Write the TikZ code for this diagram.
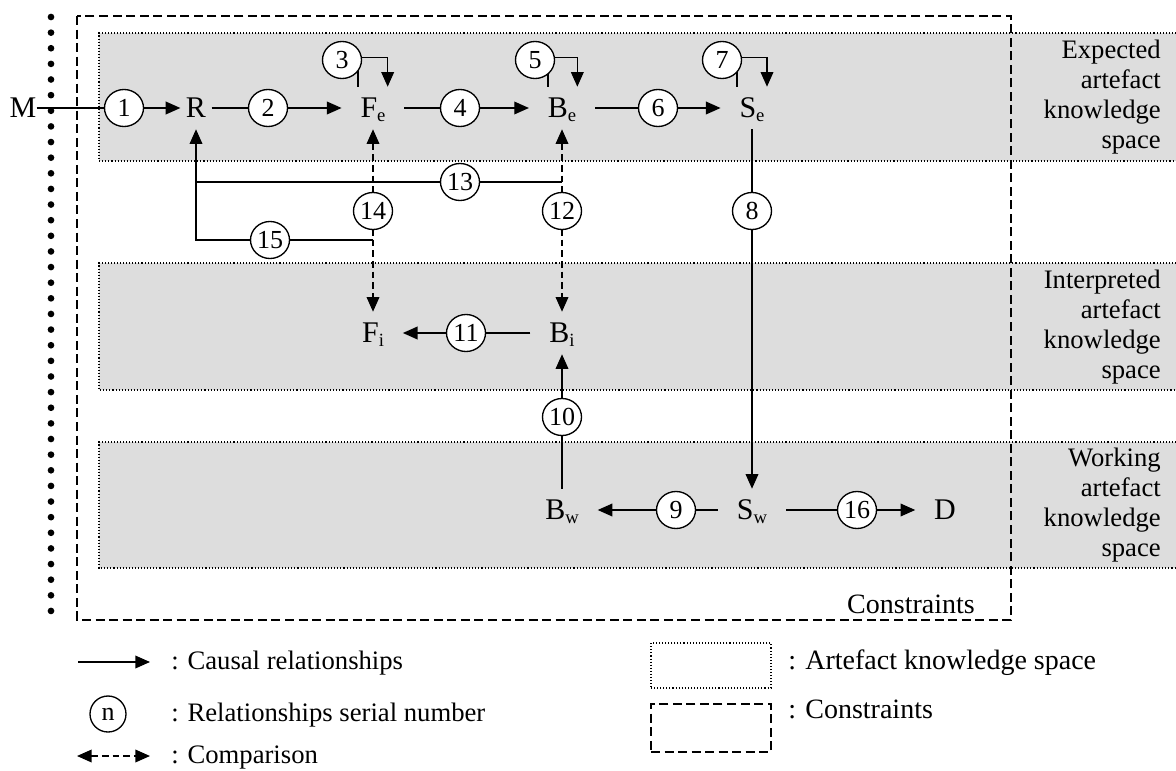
\documentclass[tikz,border=0pt]{standalone}
\usepackage{fontspec}
\setmainfont{Liberation Serif}
\usetikzlibrary{arrows.meta,shapes.geometric}
\pgfdeclarelayer{bandlayer}
\pgfdeclarelayer{linelayer}
\pgfsetlayers{bandlayer,linelayer,main}
\definecolor{bandgray}{RGB}{221,221,221}
\newcommand\fLetter{\fontsize{22.5}{26}\selectfont}
\newcommand\fNum{\fontsize{19.5}{22}\selectfont}
\newcommand\fBand{\fontsize{20}{22.5}\selectfont}
\newcommand\fLegL{\fontsize{20}{24}\selectfont}
\newcommand\fLegR{\fontsize{21}{25}\selectfont}
\newcommand\fSub{\fontsize{14}{16}\selectfont}
\newcommand\subx[1]{\raisebox{-2.5pt}{\fSub #1}}
\begin{document}
\begin{tikzpicture}[x=0.75pt,y=-0.75pt,
  lett/.style={font=\fLetter, text height=14.9pt, text depth=0pt, inner ysep=8.3pt, inner xsep=14pt},
  num/.style={ellipse, draw, line width=1pt, fill=white, minimum width=29.25pt, minimum height=27.75pt, inner sep=0pt, font=\fNum},
  conn/.style={line width=1.1pt},
  causal/.style={conn, -{Triangle[length=11pt,width=9.5pt]}},
  comp/.style={conn, dash pattern=on 5pt off 3pt, {Triangle[length=11pt,width=9.5pt]}-{Triangle[length=11pt,width=9.5pt]}},
  bandedge/.style={line width=0.8pt, dash pattern=on 0.8pt off 1.5pt},
  cons/.style={line width=1pt, dash pattern=on 6.75pt off 3.4pt},
  bandtext/.style={font=\fBand, align=right, anchor=east, inner sep=0pt},
  legtext/.style={font=\fLegL, anchor=base west, inner sep=0pt},
  legtextr/.style={font=\fLegR, anchor=base west, inner sep=0pt},
]
\useasboundingbox (0,0) rectangle (1176,770);

% bands
\begin{pgfonlayer}{bandlayer}
\foreach \t/\b in {33/161, 263/390, 442/568} {
  \fill[bandgray] (99,\t) rectangle (1176,\b);
  \draw[bandedge] (1176,\t) -- (99,\t) -- (99,\b) -- (1176,\b);
}
\end{pgfonlayer}

\node[bandtext] (t1) at (1161,97) {Expected\\artefact\\knowledge\\space};
\node[bandtext] (t2) at (1161,327) {Interpreted\\artefact\\knowledge\\space};
\node[bandtext] (t3) at (1161,505) {Working\\artefact\\knowledge\\space};

% dotted column
\foreach \i in {0,...,38} \fill (51,17+\i*15.63) circle (2.5pt);

% constraints box
\begin{pgfonlayer}{linelayer}
\draw[cons] (77,16) rectangle (1011,620);
\end{pgfonlayer}
\node[font=\fLegR, anchor=base east, inner sep=0pt] (ct) at (975,613) {Constraints};

% nodes
\node[lett, inner xsep=0pt] (M) at (23,108) {M};
\node[num] (c1) at (124,108) {1};
\node[lett, inner xsep=4pt] (R) at (196,108) {R};
\node[num] (c2) at (268,108) {2};
\node[lett] (Fe) at (373,108) {F\subx{e}};
\node[num] (c4) at (460,108) {4};
\node[lett] (Be) at (562,108) {B\subx{e}};
\node[num] (c6) at (658,108) {6};
\node[lett] (Se) at (752,108) {S\subx{e}};
\node[num] (c3) at (342,60) {3};
\node[num] (c5) at (535,60) {5};
\node[num] (c7) at (722,60) {7};
\node[num] (c13) at (460,182) {13};
\node[num] (c14) at (373,211) {14};
\node[num] (c12) at (562,211) {12};
\node[num] (c8) at (752,211) {8};
\node[num] (c15) at (270,240) {15};
\node[lett] (Fi) at (373,333) {F\subx{i}};
\node[num] (c11) at (466,333) {11};
\node[lett] (Bi) at (562,333) {B\subx{i}};
\node[num] (c10) at (562,417) {10};
\node[lett] (Bw) at (562,510) {B\subx{w}};
\node[num] (c9) at (676,510) {9};
\node[lett] (Sw) at (752,510) {S\subx{w}};
\node[num] (c16) at (857,510) {16};
\node[lett] (D) at (945,510) {D};

% connectors
\begin{pgfonlayer}{linelayer}
\draw[causal] (M.east) -- (c1.center) -- (R.west);
\draw[causal] (R.east) -- (c2.center) -- (Fe.west);
\draw[causal] (Fe.east) -- (c4.center) -- (Be.west);
\draw[causal] (Be.east) -- (c6.center) -- (Se.west);
\draw[conn] ([xshift=-11.25pt]Fe.north) -- ++(0,-25);
\draw[causal] ([yshift=2pt]c3.center) -| ([xshift=11pt]Fe.north);
\draw[conn] ([xshift=-10.5pt]Be.north) -- ++(0,-25);
\draw[causal] ([yshift=2pt]c5.center) -| ([xshift=11.5pt]Be.north);
\draw[conn] ([xshift=-11.25pt]Se.north) -- ++(0,-25);
\draw[causal] ([yshift=2pt]c7.center) -| ([xshift=11.25pt]Se.north);
\draw[comp] (Fe.south) -- (Fi.north);
\draw[comp] (Be.south) -- (Bi.north);
\draw[causal] (Se.south) -- (Sw.north);
\draw[causal] (Bi.west) -- (c11.center) -- (Fi.east);
\draw[causal] (Bw.north) -- (c10.center) -- (Bi.south);
\draw[causal] (Sw.west) -- (c9.center) -- (Bw.east);
\draw[causal] (Sw.east) -- (c16.center) -- (D.west);
\draw[conn] (c12 |- c13) -- (c13.center) -- (R |- c13);
\draw[causal] (c14 |- c15) -- (c15.center) -- (R |- c15) -- (R.south);
\end{pgfonlayer}

% legend
\coordinate (la1) at (78,662);
\coordinate (la2) at (150,662);
\draw[causal] (la1) -- (la2);
\node[legtext] (l1) at (171,669) {: Causal relationships};
\node[num, minimum width=27pt, minimum height=27pt] (ln) at (108,714) {n};
\node[legtext] (l2) at (171,721) {: Relationships serial number};
\coordinate (lb1) at (77,756);
\coordinate (lb2) at (150,756);
\draw[comp] (lb1) -- (lb2);
\node[legtext] (l3) at (171,763) {: Comparison};
\node[draw, bandedge, minimum width=90pt, minimum height=33.75pt, inner sep=0pt] (lbox1) at (711,665.5) {};
\node[legtextr] (l4) at (788,669) {: Artefact knowledge space};
\node[draw, cons, minimum width=90pt, minimum height=36pt, inner sep=0pt] (lbox2) at (711,728) {};
\node[legtextr] (l5) at (788,718) {: Constraints};
\end{tikzpicture}
\end{document}
